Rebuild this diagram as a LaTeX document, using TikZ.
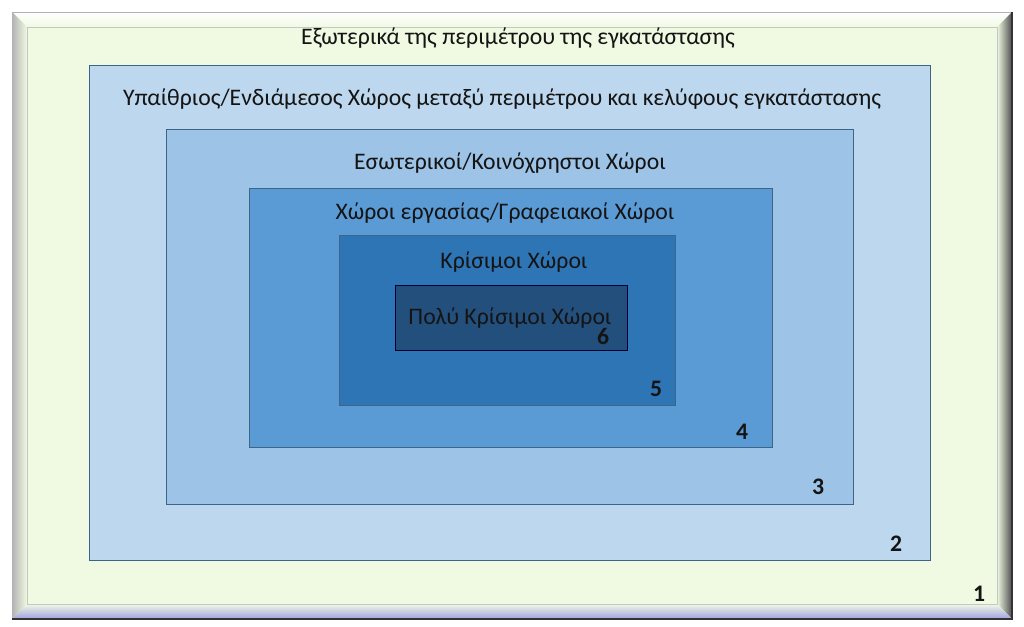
\documentclass[tikz,border=0pt]{standalone}
\usepackage{fontspec}
\setmainfont{Carlito}
\definecolor{bgg}{HTML}{F0FAE2}
\definecolor{c2}{HTML}{BDD7EE}
\definecolor{c3}{HTML}{9DC3E6}
\definecolor{c4}{HTML}{5B9BD5}
\definecolor{c5}{HTML}{2E75B6}
\definecolor{c6}{HTML}{234F7D}
\definecolor{bord}{HTML}{3E6488}
\definecolor{txt}{HTML}{141414}
\tikzset{
  zone/.style={draw=bord, line width=0.9pt},
  lbl/.style={inner sep=0pt, text=txt, font=\fontsize{23.7}{28}\selectfont},
  num/.style={inner sep=0pt, text=txt, font=\fontsize{23.7}{28}\selectfont\bfseries},
}
\begin{document}
\begin{tikzpicture}[x=1pt,y=-1pt]
\useasboundingbox (0,0) rectangle (1024,626);
\fill[white] (0,0) rectangle (1024,626);
% bevelled frame
\fill[bgg] (12,12) rectangle (1012,619);
\shade[top color=white, bottom color=bgg] (12,12) -- (1012,12) -- (997,27) -- (27,27) -- cycle;
\shade[left color=gray!60, right color=bgg] (12,12) -- (27,27) -- (27,604) -- (12,619) -- cycle;
\shade[left color=bgg, right color=gray!60!black] (1012,12) -- (1012,619) -- (997,604) -- (997,27) -- cycle;
\shade[top color=bgg, bottom color=gray!50!blue!50] (12,619) -- (27,604) -- (997,604) -- (1012,619) -- cycle;
\draw[gray!45, line width=0.6pt] (27,27) rectangle (997,604);
\draw[gray!60, line width=0.6pt] (12,619) -- (12,12) -- (1012,12);
\draw[black!80, line width=1.5pt] (1012,12) -- (1012,619) -- (12,619);
% zones
\filldraw[zone, fill=c2] (89,65) rectangle (930,560);
\filldraw[zone, fill=c3] (166,129) rectangle (853,504);
\filldraw[zone, fill=c4] (249,188) rectangle (772,447);
\filldraw[zone, fill=c5] (339,235) rectangle (675,405);
\filldraw[zone, fill=c6, draw=black!80!blue] (395,285) rectangle (627,350);
% labels
\node[lbl] (t1) at (518,38) {Εξωτερικά της περιμέτρου της εγκατάστασης};
\node[lbl] (t2) at (502,99) {Υπαίθριος/Ενδιάμεσος Χώρος μεταξύ περιμέτρου και κελύφους εγκατάστασης};
\node[lbl] (t3) at (510,163) {Εσωτερικοί/Κοινόχρηστοι Χώροι};
\node[lbl] (t4) at (505,213) {Χώροι εργασίας/Γραφειακοί Χώροι};
\node[lbl] (t5) at (514,262) {Κρίσιμοι Χώροι};
\node[lbl] (t6) at (510,318) {Πολύ Κρίσιμοι Χώροι};
% numbers
\node[num] (n1) at (979,594) {1};
\node[num] (n2) at (896,544) {2};
\node[num] (n3) at (818,487) {3};
\node[num] (n4) at (742,432) {4};
\node[num] (n5) at (656,389) {5};
\node[num] (n6) at (603,336) {6};
\end{tikzpicture}
\end{document}
